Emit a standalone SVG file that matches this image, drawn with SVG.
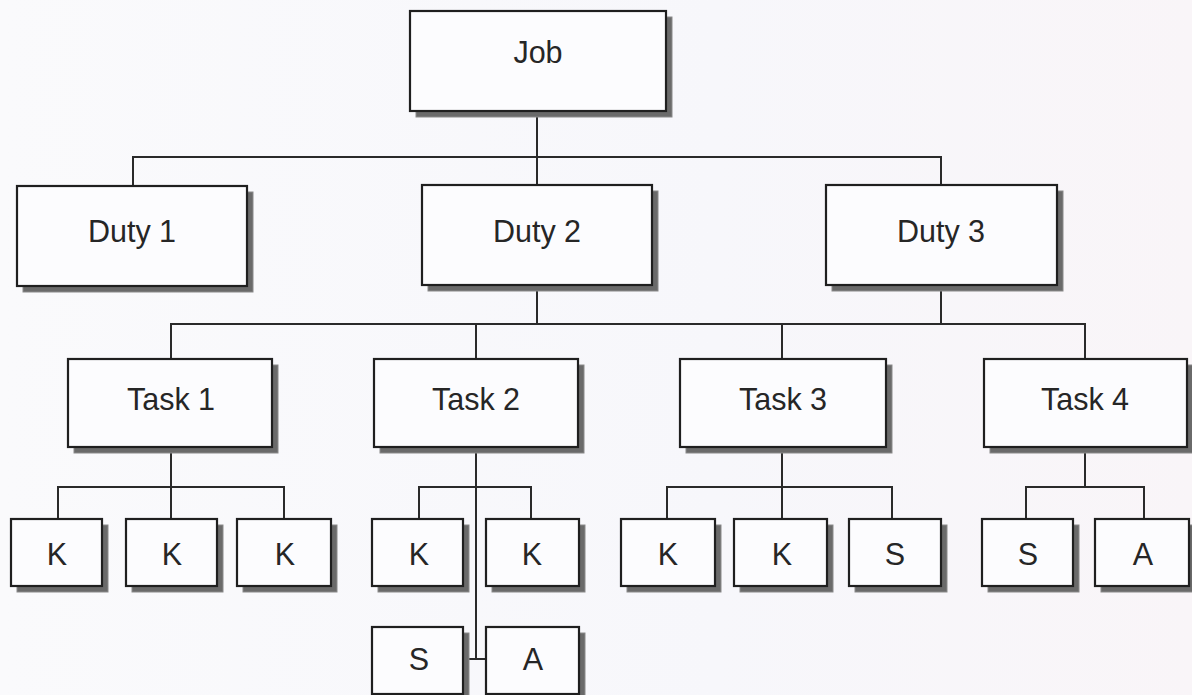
<svg xmlns="http://www.w3.org/2000/svg" width="1192" height="695" viewBox="0 0 1192 695">
<defs>
<linearGradient id="bg" x1="0" y1="0" x2="1" y2="0">
<stop offset="0" stop-color="#fafafc"/>
<stop offset="0.6" stop-color="#f7f7fb"/>
<stop offset="1" stop-color="#f9f5f8"/>
</linearGradient>
</defs>
<style>
.sh{fill:#6a6a6a;stroke:#8a8a8a;stroke-width:1}
.bx{fill:#fcfcfe;stroke:#1f1f1f;stroke-width:2.2}
.t{font-family:"Liberation Sans",Arial,sans-serif;font-size:30.5px;fill:#262626;text-anchor:middle}
.c{fill:none;stroke:#2a2a2a;stroke-width:2}
</style>
<rect width="1192" height="695" fill="url(#bg)"/>
<g id="connectors">
<path class="c" d="M537 111V185M133 186V157H941V185"/>
<path class="c" d="M537 285V324M941 285V324M171 359V324H1085V359M476 324V359M782 324V359"/>
<path class="c" d="M171 447V519M58 519V487H284V519"/>
<path class="c" d="M476 447V659H486M463 659H476M419 519V487H531V519"/>
<path class="c" d="M782 447V519M667 519V487H892V519"/>
<path class="c" d="M1085 447V487M1026 519V487H1144V519"/>
</g>
<g id="job"><rect class="sh" x="416" y="17" width="256" height="100"/><rect class="bx" x="410" y="11" width="256" height="100"/><text class="t" x="538" y="63">Job</text></g>
<g id="duty1"><rect class="sh" x="23" y="192" width="230" height="100"/><rect class="bx" x="17" y="186" width="230" height="100"/><text class="t" x="132" y="242">Duty 1</text></g>
<g id="duty2"><rect class="sh" x="428" y="191" width="230" height="100"/><rect class="bx" x="422" y="185" width="230" height="100"/><text class="t" x="537" y="242">Duty 2</text></g>
<g id="duty3"><rect class="sh" x="832" y="191" width="231" height="100"/><rect class="bx" x="826" y="185" width="231" height="100"/><text class="t" x="941" y="242">Duty 3</text></g>
<g id="task1"><rect class="sh" x="74" y="365" width="204" height="88"/><rect class="bx" x="68" y="359" width="204" height="88"/><text class="t" x="171" y="410">Task 1</text></g>
<g id="task2"><rect class="sh" x="380" y="365" width="204" height="88"/><rect class="bx" x="374" y="359" width="204" height="88"/><text class="t" x="476" y="410">Task 2</text></g>
<g id="task3"><rect class="sh" x="686" y="365" width="206" height="88"/><rect class="bx" x="680" y="359" width="206" height="88"/><text class="t" x="783" y="410">Task 3</text></g>
<g id="task4"><rect class="sh" x="990" y="365" width="203" height="88"/><rect class="bx" x="984" y="359" width="203" height="88"/><text class="t" x="1085" y="410">Task 4</text></g>
<g id="t1k1"><rect class="sh" x="17" y="525" width="91" height="67"/><rect class="bx" x="11" y="519" width="91" height="67"/><text class="t" x="57" y="565">K</text></g>
<g id="t1k2"><rect class="sh" x="132" y="525" width="91" height="67"/><rect class="bx" x="126" y="519" width="91" height="67"/><text class="t" x="172" y="565">K</text></g>
<g id="t1k3"><rect class="sh" x="243" y="525" width="94" height="67"/><rect class="bx" x="237" y="519" width="94" height="67"/><text class="t" x="285" y="565">K</text></g>
<g id="t2k1"><rect class="sh" x="378" y="525" width="91" height="67"/><rect class="bx" x="372" y="519" width="91" height="67"/><text class="t" x="419" y="565">K</text></g>
<g id="t2k2"><rect class="sh" x="492" y="525" width="93" height="67"/><rect class="bx" x="486" y="519" width="93" height="67"/><text class="t" x="532" y="565">K</text></g>
<g id="t2s"><rect class="sh" x="378" y="633" width="91" height="67"/><rect class="bx" x="372" y="627" width="91" height="67"/><text class="t" x="419" y="670">S</text></g>
<g id="t2a"><rect class="sh" x="492" y="633" width="93" height="67"/><rect class="bx" x="486" y="627" width="93" height="67"/><text class="t" x="533" y="670">A</text></g>
<g id="t3k1"><rect class="sh" x="627" y="525" width="94" height="67"/><rect class="bx" x="621" y="519" width="94" height="67"/><text class="t" x="668" y="565">K</text></g>
<g id="t3k2"><rect class="sh" x="740" y="525" width="93" height="67"/><rect class="bx" x="734" y="519" width="93" height="67"/><text class="t" x="782" y="565">K</text></g>
<g id="t3s"><rect class="sh" x="855" y="525" width="92" height="67"/><rect class="bx" x="849" y="519" width="92" height="67"/><text class="t" x="895" y="565">S</text></g>
<g id="t4s"><rect class="sh" x="988" y="525" width="91" height="67"/><rect class="bx" x="982" y="519" width="91" height="67"/><text class="t" x="1028" y="565">S</text></g>
<g id="t4a"><rect class="sh" x="1101" y="525" width="94" height="67"/><rect class="bx" x="1095" y="519" width="94" height="67"/><text class="t" x="1143" y="565">A</text></g>
</svg>
